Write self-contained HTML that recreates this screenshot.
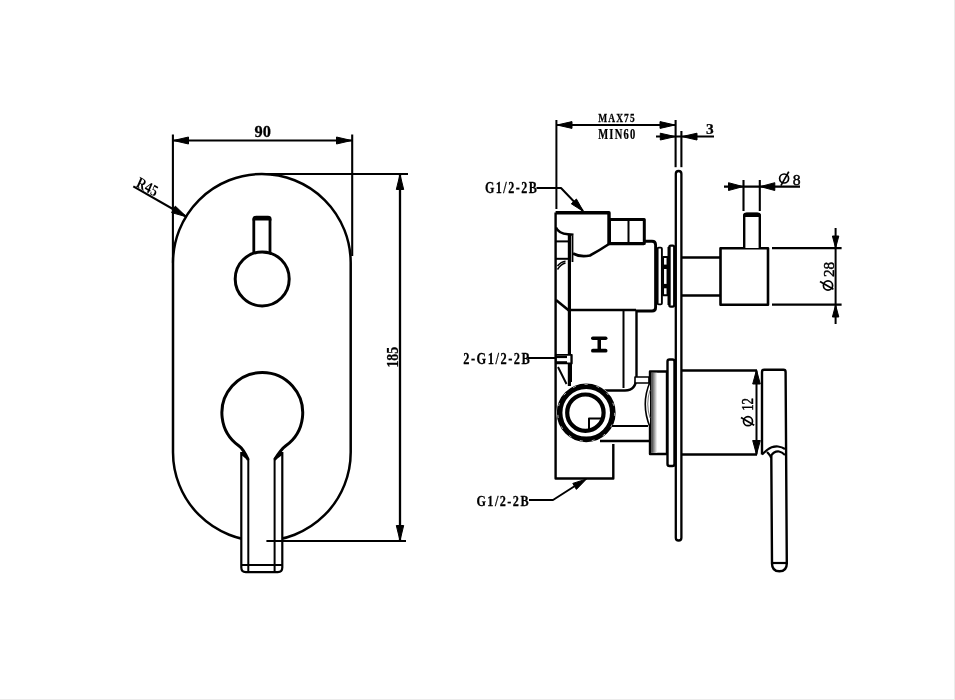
<!DOCTYPE html>
<html><head><meta charset="utf-8"><style>
html,body{margin:0;padding:0;background:#fff;}
svg{display:block;will-change:transform;}
.t{font-family:"Liberation Sans",sans-serif;font-weight:bold;fill:#000;stroke:none;}
.t2{font-family:"Liberation Serif",serif;fill:#000;stroke:none;}
</style></head><body>
<svg width="955" height="700" viewBox="0 0 955 700" fill="none" stroke="#000" stroke-linejoin="round">
<rect x="0" y="0" width="955" height="700" fill="#fff" stroke="none"/>
<rect x="954" y="0" width="1" height="700" fill="#ebebeb" stroke="none"/>
<rect x="0" y="699" width="955" height="1" fill="#ebebeb" stroke="none"/>
<path d="M173.0,262.85 A88.85,88.85 0 0 1 350.7,262.85 L350.7,452.15 A88.85,88.85 0 0 1 173.0,452.15 Z" stroke-width="2.5"/>
<line x1="172.9" y1="134.5" x2="172.9" y2="262.85" stroke-width="2.1"/>
<line x1="352.2" y1="134.5" x2="352.2" y2="256" stroke-width="2.1"/>
<line x1="173" y1="140.5" x2="352" y2="140.5" stroke-width="2.2"/>
<polygon points="173.5,140.5 188.5,137.0 188.5,144.0" fill="#000"/>
<polygon points="351.5,140.5 336.5,144.0 336.5,137.0" fill="#000"/>
<text transform="translate(254.59,137.33) scale(1.048,1)" font-family="&quot;Liberation Serif&quot;,serif" font-weight="bold" font-size="15.67" fill="#000" stroke="#000" stroke-width="0.25">90</text>
<line x1="256" y1="174" x2="408" y2="174" stroke-width="2.2"/>
<line x1="400.0" y1="174" x2="400.0" y2="541" stroke-width="2.3"/>
<polygon points="400.0,174.5 403.7,189.5 396.3,189.5" fill="#000"/>
<polygon points="400.0,540.5 396.3,525.5 403.7,525.5" fill="#000"/>
<text transform="translate(397.83,367.60) rotate(-90) scale(0.863,1)" font-family="&quot;Liberation Serif&quot;,serif" font-weight="bold" font-size="15.96" fill="#000" stroke="#000" stroke-width="0.25">185</text>
<line x1="133.3" y1="186.4" x2="186" y2="216.5" stroke-width="2.1"/>
<polygon points="186.5,216.8 171.6,212.6 175.3,206.1" fill="#000"/>
<text transform="translate(135.6,185.9) rotate(29.7) skewX(6) scale(0.84,1)" font-family="&quot;Liberation Serif&quot;,serif" font-weight="bold" font-size="15.5" fill="#000" stroke="none">R45</text>
<path d="M253.8,256 L253.8,220 Q253.8,217.8 256.5,217.8 L267.3,217.8 Q270,217.8 270,220 L270,256" stroke-width="2.8" fill="#fff"/>
<path d="M252.5,220.5 L252.5,219 Q252.5,215.8 256,215.8 L268,215.8 Q271.5,215.8 271.5,219 L271.5,220.5 Z" fill="#000" stroke="none"/>
<circle cx="262.2" cy="278.9" r="27.0" stroke-width="3.0" fill="#fff"/>
<path d="M241.3,452 L241.3,567.6 Q241.3,572.2 245.8,572.2 L277.8,572.2 Q282.3,572.2 282.3,567.6 L282.3,452" stroke-width="2.2" fill="#fff"/>
<path d="M248.3,459.8 Q243.2,448.9 239.1,446.0 A40.4,40.4 0 1 1 285.5,446.0 Q281.4,448.9 274.5,459.8" stroke-width="3.0" fill="#fff"/>
<path d="M241.3,452 L243,452 L248.6,458 L248.6,461 L241.3,455 Z" fill="#000" stroke="none"/>
<path d="M282.3,452 L280.6,452 L274.2,458 L274.2,461 L282.3,455 Z" fill="#000" stroke="none"/>
<line x1="248.3" y1="459" x2="248.3" y2="572" stroke-width="2.0"/>
<line x1="274.6" y1="459" x2="274.6" y2="572" stroke-width="2.0"/>
<line x1="241.3" y1="565" x2="282.3" y2="565" stroke-width="2.2"/>
<line x1="266.4" y1="541" x2="406" y2="541" stroke-width="2.0"/>
<line x1="556.4" y1="120" x2="556.4" y2="209" stroke-width="2"/>
<line x1="675.6" y1="120" x2="675.6" y2="167.2" stroke-width="2.1"/>
<line x1="681.4" y1="131" x2="681.4" y2="167.2" stroke-width="2.1"/>
<line x1="556.4" y1="125" x2="675.6" y2="125" stroke-width="2"/>
<polygon points="557.0,125.0 572.0,121.6 572.0,128.4" fill="#000"/>
<polygon points="675.0,125.0 660.0,128.4 660.0,121.6" fill="#000"/>
<text transform="translate(598.17,122.02) scale(0.757,1)" font-family="&quot;Liberation Serif&quot;,serif" font-weight="bold" font-size="12.48" letter-spacing="0.12em" fill="#000" stroke="#000" stroke-width="0.25">MAX75</text>
<text transform="translate(598.15,138.80) scale(0.747,1)" font-family="&quot;Liberation Serif&quot;,serif" font-weight="bold" font-size="14.09" letter-spacing="0.12em" fill="#000" stroke="#000" stroke-width="0.25">MIN60</text>
<line x1="656" y1="136.6" x2="714" y2="136.6" stroke-width="2"/>
<polygon points="675.3,136.6 660.3,140.0 660.3,133.2" fill="#000"/>
<polygon points="682.0,136.6 697.0,133.2 697.0,140.0" fill="#000"/>
<text transform="translate(706.10,133.95) scale(1.129,1)" font-family="&quot;Liberation Serif&quot;,serif" font-weight="bold" font-size="13.67" fill="#000" stroke="#000" stroke-width="0.25">3</text>
<rect x="675.8" y="171" width="5.6" height="369.5" rx="2.8" stroke-width="2.3" fill="#fff"/>
<text transform="translate(484.89,192.84) scale(0.775,1)" font-family="&quot;Liberation Serif&quot;,serif" font-weight="bold" font-size="15.67" letter-spacing="0.12em" fill="#000" stroke="#000" stroke-width="0.25">G1/2-2B</text>
<polyline points="536.5,188 561,188 583,211" stroke-width="2"/>
<polygon points="583.5,211.5 571.3,203.8 576.4,199.0" fill="#000"/>
<path d="M555.6,212.5 L555.6,478.5 L613.3,478.5 L613.3,444" stroke-width="2.4"/>
<path d="M555.6,212.8 L609,212.8 L609,244" stroke-width="3.4"/>
<rect x="609.5" y="219.4" width="34.8" height="24" stroke-width="3.0" fill="#fff"/>
<line x1="628.5" y1="220" x2="628.5" y2="243" stroke-width="2"/>
<path d="M556,227.5 Q558.5,233.5 568,234.3 L573.5,234.8" stroke-width="2.4"/>
<line x1="569.4" y1="234" x2="569.4" y2="386" stroke-width="3.2"/>
<line x1="572.5" y1="236" x2="572.5" y2="262" stroke-width="1.8"/>
<line x1="556" y1="241.4" x2="568" y2="241.4" stroke-width="2.0"/>
<line x1="556" y1="258.8" x2="568" y2="258.8" stroke-width="2.0"/>
<path d="M557.5,269.5 Q561,264 565.5,263 M557.5,266 Q561,261.5 565.5,261.2" stroke-width="1.4"/>
<path d="M573,253.5 Q580,257.5 590,255.5 Q600,250 609,244" stroke-width="2.6"/>
<path d="M644,241.3 L652,241.3 Q655.6,241.3 655.6,245 L655.6,307.5 Q655.6,311 652,311 L636,311" stroke-width="2.9"/>
<line x1="609" y1="244" x2="644" y2="244" stroke-width="2.6"/>
<line x1="569" y1="310" x2="636" y2="310" stroke-width="2.6"/>
<line x1="556" y1="300" x2="569.5" y2="311" stroke-width="2.6"/>
<rect x="657.6" y="247.6" width="4.3" height="56.8" rx="1.2" stroke-width="1.9" fill="#fff"/>
<rect x="663.1" y="257" width="4.4" height="38.2" stroke-width="1.9" fill="#fff"/>
<line x1="663.1" y1="266.8" x2="667.5" y2="266.8" stroke-width="4.4"/>
<line x1="663.1" y1="286.1" x2="667.5" y2="286.1" stroke-width="4.4"/>
<rect x="669.3" y="245.6" width="4.9" height="61" rx="1.5" stroke-width="2.2" fill="#fff"/>
<line x1="669.0" y1="247" x2="669.0" y2="305" stroke-width="3.0"/>
<line x1="623.5" y1="310" x2="623.5" y2="388" stroke-width="2"/>
<path d="M636.5,311 L636.5,376 Q636.5,390.5 625,390.5 L600,390.5" stroke-width="2.4"/>
<g stroke="none" fill="#000"><rect x="591" y="336.5" width="16.5" height="3.6" rx="1.8"/><rect x="591" y="348.8" width="16.5" height="3.8" rx="1.9"/><rect x="597.5" y="338" width="3.5" height="12"/></g>
<circle cx="586.2" cy="412.8" r="29.8" fill="#fff" stroke="none"/>
<circle cx="586.2" cy="412.8" r="26.6" stroke-width="5.6" fill="#fff"/>
<circle cx="586.2" cy="412.8" r="28.4" stroke-width="0.7" stroke="#fff" stroke-dasharray="3 9"/>
<circle cx="585.4" cy="412.7" r="18.2" stroke-width="4.2" fill="#fff"/>
<path d="M589,429.5 L589,418.6 L601.5,418.6" stroke-width="2"/>
<line x1="612" y1="426" x2="648" y2="426" stroke-width="2.2"/>
<line x1="600" y1="441" x2="650" y2="441" stroke-width="2.4"/>
<rect x="635" y="377" width="14" height="6" stroke-width="1.6" fill="#fff"/>
<rect x="650" y="371.5" width="17" height="82.5" stroke-width="2.4" fill="#fff"/>
<defs><linearGradient id="cg" x1="0" x2="1" y1="0" y2="0"><stop offset="0" stop-color="#333"/><stop offset="1" stop-color="#fff"/></linearGradient></defs>
<rect x="651.2" y="372.8" width="6" height="80" fill="url(#cg)" stroke="none"/>
<path d="M650,382 Q640.5,404 650,427" stroke-width="1.6" fill="#fff"/>
<path d="M650,390 Q645.5,404 650,418" stroke-width="1" stroke="#777"/>
<rect x="667.5" y="359.5" width="7" height="106.5" rx="2" stroke-width="2.4" fill="#fff"/>
<text transform="translate(463.22,363.55) scale(0.712,1)" font-family="&quot;Liberation Serif&quot;,serif" font-weight="bold" font-size="17.49" letter-spacing="0.12em" fill="#000" stroke="#000" stroke-width="0.25">2-G1/2-2B</text>
<line x1="528" y1="358" x2="556" y2="358" stroke-width="2"/>
<rect x="556" y="354.8" width="15.8" height="8.6" stroke-width="1.8" fill="#fff"/>
<line x1="556" y1="357" x2="567" y2="357" stroke-width="2.2"/>
<line x1="556" y1="362.3" x2="567" y2="362.3" stroke-width="2.2"/>
<line x1="571.2" y1="355" x2="571.2" y2="382" stroke-width="1.6"/>
<line x1="558" y1="367" x2="566.5" y2="384" stroke-width="2.0"/>
<text transform="translate(476.39,505.50) scale(0.868,1)" font-family="&quot;Liberation Serif&quot;,serif" font-weight="bold" font-size="14.06" letter-spacing="0.12em" fill="#000" stroke="#000" stroke-width="0.25">G1/2-2B</text>
<polyline points="529,500 553,500 578,484" stroke-width="2"/>
<polygon points="586.5,479.0 576.4,489.4 572.8,483.4" fill="#000"/>
<line x1="682" y1="257.5" x2="720" y2="257.5" stroke-width="2.4"/>
<line x1="682" y1="295.5" x2="720" y2="295.5" stroke-width="2.4"/>
<rect x="720.5" y="248.2" width="47.5" height="56.6" stroke-width="2.6" fill="#fff"/>
<path d="M744.2,248 L744.2,216.5 Q744.2,214 747,214 L757,214 Q759.8,214 759.8,216.5 L759.8,248" stroke-width="2.4" fill="#fff"/>
<path d="M743,217 L743,215.5 Q743,212.4 746.5,212.4 L757.5,212.4 Q761,212.4 761,215.5 L761,217 Z" fill="#000" stroke="none"/>
<line x1="724" y1="186.6" x2="800" y2="186.6" stroke-width="2.1"/>
<line x1="743.5" y1="180" x2="743.5" y2="211" stroke-width="2.1"/>
<line x1="759.8" y1="180" x2="759.8" y2="211" stroke-width="2.1"/>
<polygon points="743.0,186.6 728.5,190.5 728.5,182.7" fill="#000"/>
<polygon points="760.3,186.6 774.8,182.7 774.8,190.5" fill="#000"/>
<text transform="translate(792.82,184.63) scale(1.004,1)" font-family="&quot;Liberation Serif&quot;,serif" font-weight="normal" font-size="15.55" fill="#000" stroke="#000" stroke-width="0.45">8</text>
<circle cx="784.1" cy="178.5" r="4.5" stroke-width="1.7"/>
<line x1="780.9" y1="185.6" x2="788.8" y2="171.6" stroke-width="1.7"/>
<line x1="772" y1="248.2" x2="841.6" y2="248.2" stroke-width="2.2"/>
<line x1="772" y1="304.6" x2="841.6" y2="304.6" stroke-width="2.2"/>
<line x1="835.6" y1="228" x2="835.6" y2="324" stroke-width="2"/>
<polygon points="835.6,248.0 832.4,236.0 838.8,236.0" fill="#000"/>
<polygon points="835.6,305.0 838.8,317.0 832.4,317.0" fill="#000"/>
<text transform="translate(833.91,277.11) rotate(-90) scale(0.996,1)" font-family="&quot;Liberation Serif&quot;,serif" font-weight="normal" font-size="15.34" fill="#000" stroke="#000" stroke-width="0.45">28</text>
<circle cx="828" cy="285.5" r="4.6" stroke-width="1.7"/>
<line x1="820" y1="281.4" x2="833.4" y2="289.3" stroke-width="1.7"/>
<line x1="682" y1="370.5" x2="757" y2="370.5" stroke-width="2.4"/>
<line x1="682" y1="454.5" x2="757" y2="454.5" stroke-width="2.4"/>
<line x1="756.5" y1="370.5" x2="756.5" y2="454.5" stroke-width="2"/>
<polygon points="756.5,370.0 760.3,384.0 752.7,384.0" fill="#000"/>
<polygon points="756.5,454.5 752.7,440.5 760.3,440.5" fill="#000"/>
<text transform="translate(753.42,410.80) rotate(-90) scale(0.808,1)" font-family="&quot;Liberation Serif&quot;,serif" font-weight="normal" font-size="15.91" fill="#000" stroke="#000" stroke-width="0.45">12</text>
<circle cx="748" cy="421.2" r="4.5" stroke-width="1.7"/>
<line x1="741" y1="417.5" x2="754.2" y2="425.2" stroke-width="1.7"/>
<path d="M762,454.5 L762,372 Q762,369.8 764,369.8 L783.5,369.8 Q785.6,369.8 785.6,372 L786.8,563.5 Q786.8,571.3 779.4,571.3 Q772,571.3 772,563.5 L771.3,456" stroke-width="2.4" fill="none"/>
<line x1="772" y1="563" x2="786.8" y2="563" stroke-width="2.2"/>
<path d="M762,454.5 L767,450 Q772,446 778,446.5 Q782,447 785,449" stroke-width="2.2" fill="none"/>
<path d="M767,452 Q771,456 771,458 M771,456 Q774,451 779,451.5 Q782,452 785,455" stroke-width="2.2" fill="none"/>
</svg>
</body></html>
